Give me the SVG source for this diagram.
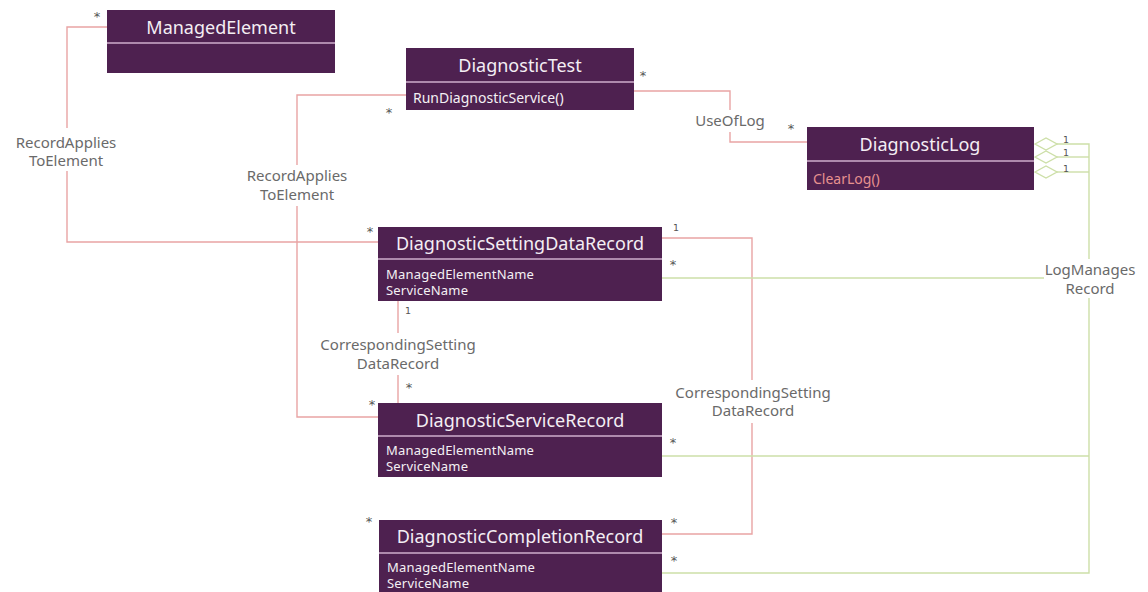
<svg xmlns="http://www.w3.org/2000/svg" width="1148" height="592" viewBox="0 0 1148 592">
  <style>
    .box { fill: #4e2150; }
    .div { stroke: #cfaecd; stroke-width: 1.6; }
    .title { font-family: "Noto Sans", "DejaVu Sans", sans-serif; font-size: 18px; fill: #f4eef4; text-anchor: middle; }
    .attr { font-family: "Noto Sans", "DejaVu Sans", sans-serif; font-size: 13px; fill: #f4f0f4; letter-spacing: 0.2px; }
    .op { font-family: "Noto Sans", "DejaVu Sans", sans-serif; font-size: 14px; fill: #f4f0f4; }
    .op-red { font-family: "Noto Sans", "DejaVu Sans", sans-serif; font-size: 14px; fill: #e7918f; }
    .red { fill: none; stroke: #e9a4a4; stroke-width: 1.4; }
    .green { fill: none; stroke: #cddfa8; stroke-width: 1.4; }
    .lbl { font-family: "Noto Sans", "DejaVu Sans", sans-serif; font-size: 15px; fill: #6a6a6a; text-anchor: middle; }
    .mult { font-family: "DejaVu Sans", sans-serif; font-size: 13px; fill: #555; text-anchor: middle; }
    .one { font-family: "DejaVu Sans", sans-serif; font-size: 9.5px; fill: #555; text-anchor: middle; }
  </style>

  <!-- connectors -->
  <g id="connectors">
    <!-- RecordAppliesToElement: ManagedElement - DiagnosticSettingDataRecord -->
    <polyline class="red" points="107,27 67,27 67,128"/>
    <polyline class="red" points="67,171 67,242 378,242"/>
    <!-- RecordAppliesToElement: DiagnosticTest - DiagnosticServiceRecord -->
    <polyline class="red" points="406,95 297,95 297,165"/>
    <polyline class="red" points="297,206 297,417 378,417"/>
    <!-- UseOfLog -->
    <polyline class="red" points="634,91 730,91 730,110"/>
    <polyline class="red" points="730,132 730,142 807,142"/>
    <!-- CorrespondingSettingDataRecord: setting - service -->
    <line class="red" x1="398" y1="301" x2="398" y2="333"/>
    <line class="red" x1="398" y1="375" x2="398" y2="403"/>
    <!-- CorrespondingSettingDataRecord: setting - completion -->
    <polyline class="red" points="662,238 752,238 752,380"/>
    <polyline class="red" points="752,423 752,534 662,534"/>

    <!-- LogManagesRecord -->
    <polyline class="green" points="1057,144 1089,144 1089,259"/>
    <line class="green" x1="1057" y1="157" x2="1089" y2="157"/>
    <line class="green" x1="1057" y1="172" x2="1089" y2="172"/>
    <line class="green" x1="662" y1="278" x2="1044" y2="278"/>
    <polyline class="green" points="1089,298 1089,573 662,573"/>
    <line class="green" x1="662" y1="456" x2="1089" y2="456"/>
    <!-- aggregation diamonds -->
    <polygon class="green" fill="#fff" points="1035,144 1046,138 1057,144 1046,150"/>
    <polygon class="green" fill="#fff" points="1035,157 1046,151 1057,157 1046,163"/>
    <polygon class="green" fill="#fff" points="1035,172 1046,166 1057,172 1046,178"/>

    <!-- association labels -->
    <text class="lbl" x="66" y="148">RecordApplies</text>
    <text class="lbl" x="66" y="166">ToElement</text>
    <text class="lbl" x="297" y="181">RecordApplies</text>
    <text class="lbl" x="297" y="200">ToElement</text>
    <text class="lbl" x="730" y="126">UseOfLog</text>
    <text class="lbl" x="398" y="350">CorrespondingSetting</text>
    <text class="lbl" x="398" y="369">DataRecord</text>
    <text class="lbl" x="753" y="398">CorrespondingSetting</text>
    <text class="lbl" x="753" y="416">DataRecord</text>
    <text class="lbl" x="1090" y="275">LogManages</text>
    <text class="lbl" x="1090" y="294">Record</text>

    <!-- multiplicities -->
    <text class="mult" x="97" y="21">*</text>
    <text class="mult" x="389" y="117">*</text>
    <text class="mult" x="643" y="80">*</text>
    <text class="mult" x="791" y="133">*</text>
    <text class="mult" x="370" y="236">*</text>
    <text class="one" x="676" y="231">1</text>
    <text class="mult" x="673" y="269">*</text>
    <text class="one" x="408" y="314">1</text>
    <text class="mult" x="409" y="392">*</text>
    <text class="mult" x="372" y="409">*</text>
    <text class="mult" x="673" y="447">*</text>
    <text class="mult" x="369" y="526">*</text>
    <text class="mult" x="674" y="527">*</text>
    <text class="mult" x="674" y="565">*</text>
    <text class="one" x="1066" y="143">1</text>
    <text class="one" x="1066" y="156">1</text>
    <text class="one" x="1066" y="172">1</text>
  </g>

  <!-- classes -->
  <g id="ManagedElement">
    <rect class="box" x="107" y="10" width="228" height="63"/>
    <line class="div" x1="107" y1="43" x2="335" y2="43"/>
    <text class="title" x="221" y="34">ManagedElement</text>
  </g>

  <g id="DiagnosticTest">
    <rect class="box" x="406" y="48" width="228" height="62"/>
    <line class="div" x1="406" y1="82" x2="634" y2="82"/>
    <text class="title" x="520" y="72">DiagnosticTest</text>
    <text class="op" x="413" y="103">RunDiagnosticService()</text>
  </g>

  <g id="DiagnosticLog">
    <rect class="box" x="807" y="127" width="227" height="63"/>
    <line class="div" x1="807" y1="161" x2="1034" y2="161"/>
    <text class="title" x="920" y="151">DiagnosticLog</text>
    <text class="op-red" x="813" y="184">ClearLog()</text>
  </g>

  <g id="DiagnosticSettingDataRecord">
    <rect class="box" x="378" y="227" width="284" height="74"/>
    <line class="div" x1="378" y1="259" x2="662" y2="259"/>
    <text class="title" x="520" y="250">DiagnosticSettingDataRecord</text>
    <text class="attr" x="386" y="279">ManagedElementName</text>
    <text class="attr" x="386" y="295">ServiceName</text>
  </g>

  <g id="DiagnosticServiceRecord">
    <rect class="box" x="378" y="403" width="284" height="74"/>
    <line class="div" x1="378" y1="436" x2="662" y2="436"/>
    <text class="title" x="520" y="427">DiagnosticServiceRecord</text>
    <text class="attr" x="386" y="455">ManagedElementName</text>
    <text class="attr" x="386" y="471">ServiceName</text>
  </g>

  <g id="DiagnosticCompletionRecord">
    <rect class="box" x="379" y="520" width="283" height="74"/>
    <line class="div" x1="379" y1="553" x2="662" y2="553"/>
    <text class="title" x="520" y="543">DiagnosticCompletionRecord</text>
    <text class="attr" x="387" y="572">ManagedElementName</text>
    <text class="attr" x="387" y="588">ServiceName</text>
  </g>
</svg>
